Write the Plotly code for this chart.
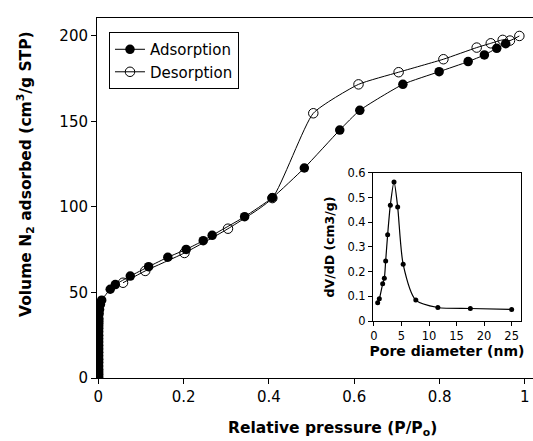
import plotly.graph_objects as go

# Main isotherm data (P/Po, volume adsorbed)
ads_x = [0.001, 0.001, 0.001, 0.001, 0.001, 0.001, 0.001, 0.001, 0.001, 0.001,
         0.001, 0.001, 0.001, 0.001, 0.001, 0.001, 0.001, 0.001, 0.001, 0.001,
         0.001, 0.002, 0.003, 0.005, 0.008,
         0.028, 0.040, 0.075, 0.118, 0.163, 0.206, 0.246, 0.267, 0.343, 0.408,
         0.483, 0.566, 0.613, 0.714, 0.799, 0.867, 0.905, 0.934, 0.955]
ads_y = [0.5, 2, 3.5, 5, 7, 9, 11, 13, 15, 17,
         19, 21, 23, 25, 27, 29, 30.5, 32, 33, 34,
         35, 37.5, 40, 43, 45.5,
         51.9, 54.6, 59.6, 65.1, 70.6, 75.2, 80.3, 83.4, 94.3, 105.4,
         122.8, 145.0, 156.5, 171.7, 179.1, 185.0, 188.9, 192.8, 195.5]

des_x = [0.987, 0.965, 0.948, 0.920, 0.887, 0.809, 0.704, 0.610, 0.504, 0.408,
         0.304, 0.202, 0.110, 0.058]
des_y = [200.0, 197.3, 197.7, 195.7, 193.2, 186.4, 178.8, 171.7, 154.8, 105.2,
         87.3, 73.1, 62.6, 55.7]

# Inset pore size distribution
pore_d = [0.67, 0.97, 1.58, 1.88, 2.12, 2.48, 2.97, 3.64, 4.30, 5.3, 7.6, 11.6, 17.5, 25.0]
dvdd = [0.074, 0.090, 0.151, 0.173, 0.243, 0.349, 0.469, 0.563, 0.462, 0.230,
        0.085, 0.055, 0.051, 0.047]

main_xticks = [0, 0.2, 0.4, 0.6, 0.8, 1]
main_xticklabels = ["0", "0.2", "0.4", "0.6", "0.8", "1"]
main_yticks = [0, 50, 100, 150, 200]
inset_xticks = [0, 5, 10, 15, 20, 25]
inset_yticks = [0, 0.1, 0.2, 0.3, 0.4, 0.5, 0.6]
inset_yticklabels = ["0", "0.1", "0.2", "0.3", "0.4", "0.5", "0.6"]

FONT = "DejaVu Sans, Liberation Sans, Arial, sans-serif"

fig = go.Figure()
fig.add_trace(go.Scatter(
    x=ads_x, y=ads_y, mode="lines+markers", name="Adsorption",
    line=dict(color="black", width=1, shape="spline", smoothing=0.5),
    marker=dict(symbol="circle", size=9.5, color="black"),
))
fig.add_trace(go.Scatter(
    x=des_x, y=des_y, mode="lines+markers", name="Desorption",
    line=dict(color="black", width=1, shape="spline", smoothing=0.5),
    marker=dict(symbol="circle-open", size=9.5, color="black", line=dict(width=1)),
))
fig.add_trace(go.Scatter(
    x=pore_d, y=dvdd, mode="lines+markers", showlegend=False,
    xaxis="x2", yaxis="y2",
    line=dict(color="black", width=1.2, shape="spline", smoothing=0.7),
    marker=dict(symbol="circle", size=5, color="black"),
))

fig.update_layout(
    width=533, height=441,
    margin=dict(l=97, r=0, t=18, b=63),
    paper_bgcolor="white", plot_bgcolor="white",
    font=dict(family=FONT, color="black"),
    showlegend=True,
    legend=dict(
        x=0.0275, y=0.961, xanchor="left", yanchor="top",
        bgcolor="white", bordercolor="black", borderwidth=1,
        font=dict(size=15, family=FONT), tracegroupgap=0,
        itemwidth=30,
    ),
    xaxis=dict(
        range=[-0.003, 1.019], tickvals=main_xticks, ticktext=main_xticklabels,
        showline=True, linecolor="black", linewidth=1, mirror=True,
        ticks="outside", ticklen=5, tickcolor="black",
        showgrid=False, zeroline=False,
        tickfont=dict(size=15, family=FONT),
    ),
    yaxis=dict(
        range=[0, 210.5], tickvals=main_yticks,
        showline=True, linecolor="black", linewidth=1,
        ticks="outside", ticklen=5, tickcolor="black",
        showgrid=False, zeroline=False,
        tickfont=dict(size=15, family=FONT),
    ),
    xaxis2=dict(
        domain=[0.633, 0.9725], anchor="y2",
        range=[-0.18, 26.7], tickvals=inset_xticks,
        showline=True, linecolor="black", linewidth=1, mirror=True,
        ticks="outside", ticklen=4, tickcolor="black",
        showgrid=False, zeroline=False,
        tickfont=dict(size=11.5, family=FONT),
        title=dict(text="<b>Pore diameter (nm)</b>", font=dict(size=14, family=FONT), standoff=2),
    ),
    yaxis2=dict(
        domain=[0.158, 0.570], anchor="x2",
        range=[0, 0.6], tickvals=inset_yticks, ticktext=inset_yticklabels,
        showline=True, linecolor="black", linewidth=1, mirror=True,
        ticks="outside", ticklen=4, tickcolor="black",
        showgrid=False, zeroline=False,
        tickfont=dict(size=11.5, family=FONT),
        title=dict(text="<b>dV/dD (cm3/g)</b>", font=dict(size=12.5, family=FONT), standoff=10),
    ),
)

# Main axis titles placed as annotations
fig.add_annotation(
    text="<b>Relative pressure (P/P<sub>o</sub>)</b>",
    xref="paper", yref="paper", x=(332 - 97) / 436, y=(378 - 429) / 360,
    xanchor="center", yanchor="middle", showarrow=False,
    font=dict(size=15.5, family=FONT),
)
fig.add_annotation(
    text="<b>Volume N<sub>2</sub> adsorbed (cm<sup>3</sup>/g STP)</b>",
    xref="paper", yref="paper", x=(25 - 97) / 436, y=(378 - 174) / 360,
    xanchor="center", yanchor="middle", showarrow=False, textangle=-90,
    font=dict(size=15.5, family=FONT),
)

fig.write_html("out.html")
